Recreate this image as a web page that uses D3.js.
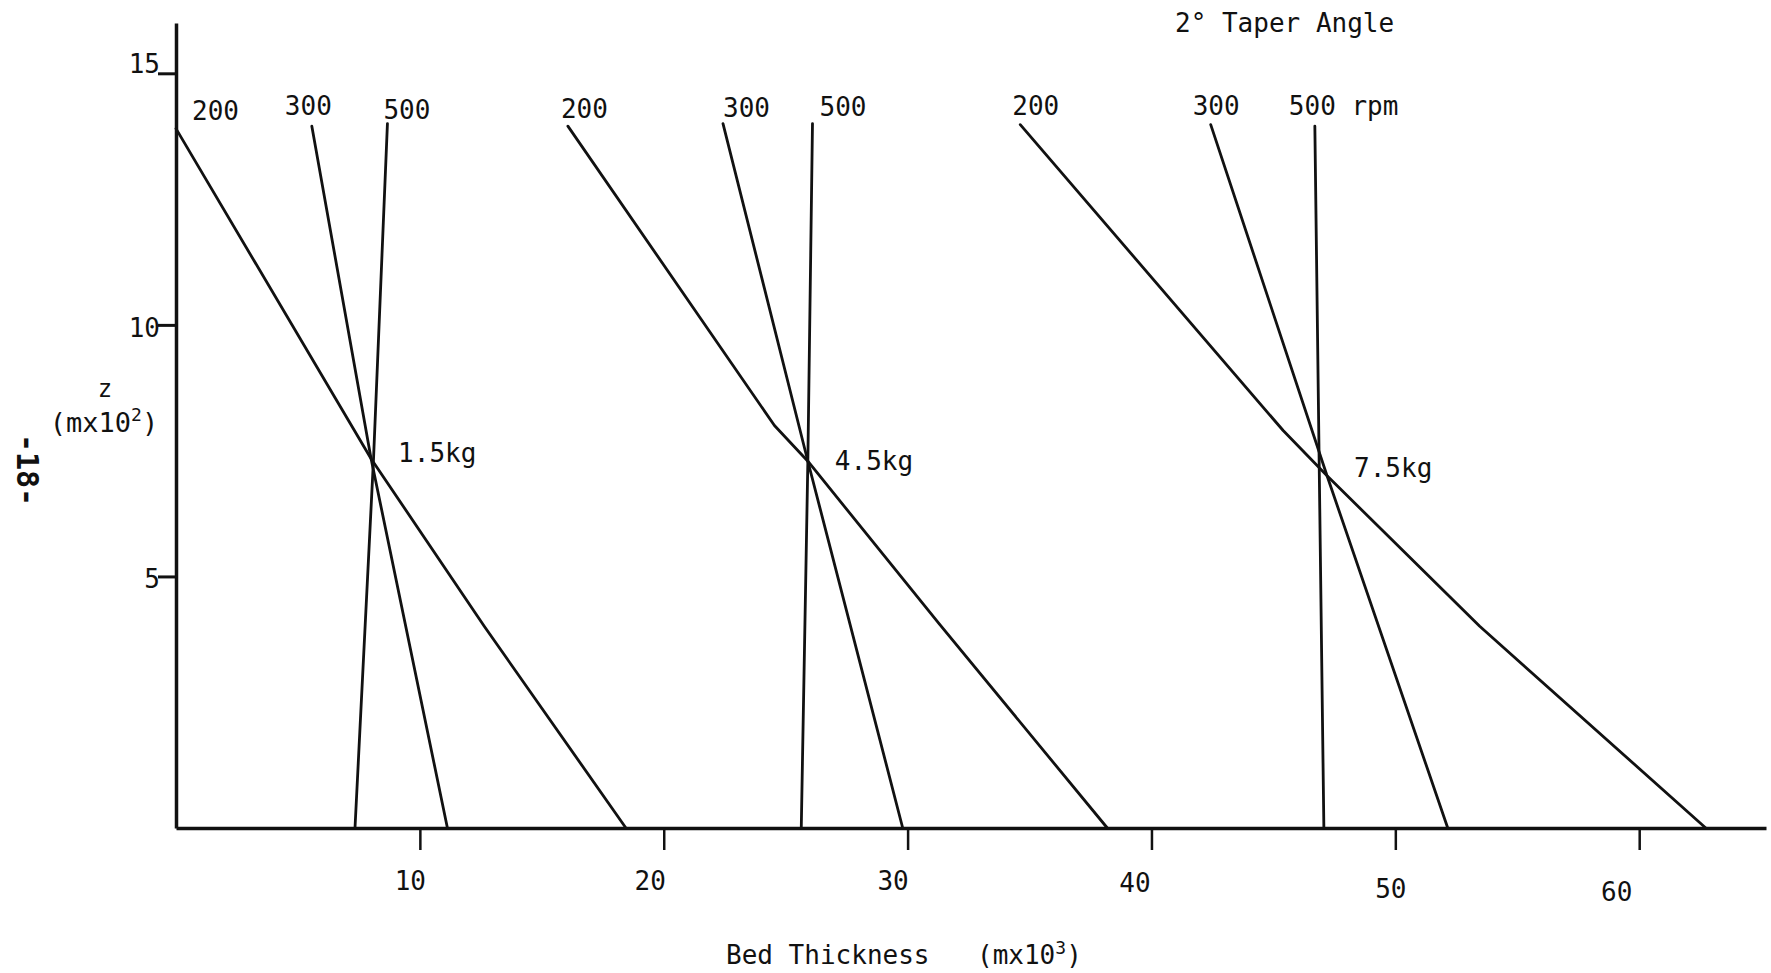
<!DOCTYPE html>
<html>
<head>
<meta charset="utf-8">
<script src="https://cdn.jsdelivr.net/npm/d3@7"></script>
<style>
  html, body { margin: 0; padding: 0; background: #fff; }
  svg text { font-family: "DejaVu Sans Mono", "Liberation Mono", monospace; fill: #111; }
</style>
</head>
<body>
<svg id="chart" width="1771" height="973"></svg>
<script>
// ---- data (bed thickness in m x10^3, z in m x10^2) ----
const speeds = ["200", "300", "500"];
const loads = ["1.5kg", "4.5kg", "7.5kg"];
const xTicks = [10, 20, 30, 40, 50, 60];
const yTicks = [5, 10, 15];

const load15_rpm200 = [[0, 13.9], [8.0, 7.34], [12.64, 4.01], [18.45, 0]];
const load15_rpm300 = [[5.57, 13.95], [8.0, 7.34], [11.13, 0]];
const load15_rpm500 = [[8.67, 14.0], [8.1, 7.34], [7.34, 0]];

const load45_rpm200 = [[16.07, 13.95], [24.54, 8.0], [25.91, 7.29], [31.29, 4.06], [38.19, 0]];
const load45_rpm300 = [[22.43, 14.0], [25.91, 7.29], [29.8, 0]];
const load45_rpm500 = [[26.1, 14.0], [25.91, 7.29], [25.64, 0]];

const load75_rpm200 = [[34.62, 13.98], [45.4, 7.9], [47.2, 7.0], [53.46, 4.01], [62.73, 0]];
const load75_rpm300 = [[42.43, 13.98], [47.2, 7.0], [52.15, 0]];
const load75_rpm500 = [[46.7, 13.95], [47.07, 0]];

const loadCrossings = [[8.0, 7.34], [25.91, 7.29], [47.2, 7.0]];

// ---- styling helpers (label nudges, pixels) ----
const rpmLabelDx = [[16, -27, -4], [-7, 0, 7], [-8, -18, -26]];
const rpmLabelDy = [[0, -2, 4], [1, 2, 1], [-1, -1, -2]];
const loadLabelDy = [-2, 4, -4];
const xTickLabelDx = [-10, -14, -15, -17, -5, -23];
const xTickLabelDy = [62, 62, 62, 64, 70, 73];
const yTickLabelDy = [11, 12, -1];

const groups = [
  [load15_rpm200, load15_rpm300, load15_rpm500],
  [load45_rpm200, load45_rpm300, load45_rpm500],
  [load75_rpm200, load75_rpm300, load75_rpm500]
];

const svg = d3.select("#chart");
const x = d3.scaleLinear().domain([0, 65.2]).range([176, 1766]);
const y = d3.scaleLinear().domain([0, 16]).range([828, 23]);
const FS = 26;

// x axis
const gx = svg.append("g").attr("transform", `translate(0,${y(0)})`)
  .call(d3.axisBottom(x).tickValues(xTicks).tickSize(22).tickSizeOuter(0).tickFormat(d3.format("d")));
gx.select(".domain").attr("stroke", "#111").attr("stroke-width", 3.5);
gx.selectAll(".tick line").attr("stroke", "#111").attr("stroke-width", 2.5);
gx.selectAll(".tick text").attr("font-size", FS).attr("dy", null)
  .attr("x", (d, i) => xTickLabelDx[i]).attr("y", (d, i) => xTickLabelDy[i]).attr("text-anchor", "middle")
  .style("font-family", "DejaVu Sans Mono").style("fill", "#111");

// y axis
const gy = svg.append("g").attr("transform", `translate(${x(0)},0)`)
  .call(d3.axisLeft(y).tickValues(yTicks).tickSize(18).tickSizeOuter(0).tickFormat(d3.format("d")));
gy.select(".domain").attr("stroke", "#111").attr("stroke-width", 3.5);
gy.selectAll(".tick line").attr("stroke", "#111").attr("stroke-width", 3);
gy.selectAll(".tick text").attr("font-size", FS).attr("dy", null)
  .attr("x", -16).attr("y", (d, i) => yTickLabelDy[i])
  .attr("text-anchor", "end")
  .style("font-family", "DejaVu Sans Mono").style("fill", "#111");

// curves
const line = d3.line().x(d => x(d[0])).y(d => y(d[1]));
groups.forEach((g, gi) => {
  g.forEach((series, si) => {
    svg.append("path").datum(series)
      .attr("d", line)
      .attr("fill", "none")
      .attr("stroke", "#111")
      .attr("stroke-width", 2.8)
      .attr("stroke-linejoin", "round")
      .attr("stroke-linecap", "round");
    const top = series[0];
    const label = (gi === groups.length - 1 && si === speeds.length - 1) ? speeds[si] + " rpm" : speeds[si];
    svg.append("text")
      .attr("x", x(top[0]) + rpmLabelDx[gi][si])
      .attr("y", y(top[1]) - 9 + rpmLabelDy[gi][si])
      .attr("font-size", FS)
      .text(label);
  });
});

// load labels
loadCrossings.forEach((p, i) => {
  svg.append("text")
    .attr("x", x(p[0]) + 27)
    .attr("y", y(p[1]) + 5 + loadLabelDy[i])
    .attr("font-size", FS)
    .text(loads[i]);
});

// titles
svg.append("text").attr("x", 1175).attr("y", 32).attr("font-size", FS).text("2° Taper Angle");

svg.append("text").attr("x", 726).attr("y", 964).attr("font-size", FS).text("Bed Thickness");
const xl = svg.append("text").attr("x", 977).attr("y", 964).attr("font-size", FS);
xl.append("tspan").text("(mx10");
xl.append("tspan").attr("dy", -10).attr("font-size", 18).text("3");
xl.append("tspan").attr("dy", 10).text(")");

svg.append("text").attr("x", 105).attr("y", 397).attr("font-size", 24).attr("text-anchor", "middle").text("z");
const yl = svg.append("text").attr("x", 104).attr("y", 432).attr("font-size", 27).attr("text-anchor", "middle");
yl.append("tspan").text("(mx10");
yl.append("tspan").attr("dy", -11).attr("font-size", 18).text("2");
yl.append("tspan").attr("dy", 11).text(")");

svg.append("text").attr("transform", "translate(17,470) rotate(90)")
  .attr("font-size", 30).attr("font-weight", "bold").attr("text-anchor", "middle").text("-18-");
</script>
</body>
</html>
